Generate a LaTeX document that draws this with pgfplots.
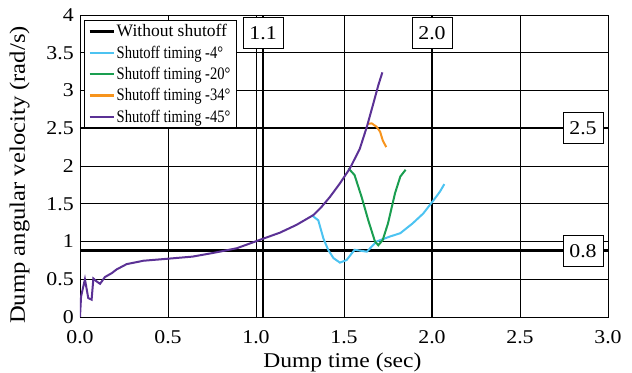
\documentclass[border=0pt]{standalone}
\usepackage{graphicx}
\usepackage{pgfplots}
\pgfplotsset{compat=1.18}
\usepackage{fontspec}
\setmainfont{Liberation Serif}
\newfontfamily\wide{Liberation Serif}[FakeStretch=1.12]
\definecolor{cblue}{HTML}{4CC3F1}
\definecolor{cgreen}{HTML}{1A9E50}
\definecolor{corange}{HTML}{F7941D}
\definecolor{cpurple}{HTML}{5B3195}
\begin{document}
\begin{tikzpicture}
\begin{axis}[
  scale only axis, width=528pt, height=302pt,
  xmin=0, xmax=3, ymin=0, ymax=4,
  xtick={0,0.5,1,1.5,2,2.5,3},
  xticklabels={0.0,0.5,1.0,1.5,2.0,2.5,3.0},
  ytick={0,0.5,1,1.5,2,2.5,3,3.5,4},
  yticklabels={0,0.5,1,1.5,2,2.5,3,3.5,4},
  grid=major, major grid style={black, line width=0.8pt},
  major tick length=0pt,
  axis line style={black, line width=0.8pt},
  tick label style={font=\wide\fontsize{19.5}{20}\selectfont, inner sep=0pt},
  xticklabel style={yshift=-13pt},
  yticklabel style={xshift=-6pt},
  xlabel={Dump time (sec)}, ylabel={Dump angular velocity (rad/s)},
  xlabel style={at={(axis description cs:0.497,-0.1656)}, anchor=base, font=\wide\fontsize{21}{21}\selectfont},
  ylabel style={at={(axis description cs:-0.1146,0.47)}, anchor=center, rotate=0, font=\wide\fontsize{22}{22}\selectfont},
  legend style={at={(0.0076,0.983)}, anchor=north west, draw=black, line width=1pt,
    font=\fontsize{17.5}{17.5}\selectfont, inner xsep=4pt, inner ysep=2pt, row sep=3.5pt},
  legend cell align=left,
  legend image code/.code={\draw[#1, line width=2.2pt] (0pt,0pt) -- (24pt,0pt);},
]
\addplot[black, line width=2.2pt] coordinates {(1.04,0) (1.04,4)};
\addlegendentry{Without shutoff}
\addplot[black, line width=2.2pt, forget plot] coordinates {(2.0,0) (2.0,4)};
\addplot[black, line width=2.2pt, forget plot] coordinates {(0,2.5) (3,2.5)};
\addplot[black, line width=2.2pt, forget plot] coordinates {(0,0.88) (3,0.88)};
\addplot[cblue, line width=2pt] coordinates {(1.316,1.35) (1.354,1.28) (1.383,1.04) (1.41,0.89) (1.44,0.78) (1.477,0.72) (1.515,0.755) (1.56,0.89) (1.63,0.865) (1.685,1.0) (1.76,1.065) (1.82,1.11) (1.89,1.24) (1.95,1.37) (2.01,1.55) (2.045,1.66) (2.07,1.76)};
\addlegendentry{\scalebox{0.83}[1]{Shutoff timing -4°}}
\addplot[cgreen, line width=2pt] coordinates {(1.525,1.97) (1.56,1.88) (1.60,1.59) (1.638,1.28) (1.676,1.0) (1.695,0.95) (1.72,1.02) (1.75,1.24) (1.79,1.64) (1.82,1.86) (1.85,1.95)};
\addlegendentry{\scalebox{0.83}[1]{Shutoff timing -20°}}
\addplot[corange, line width=2pt] coordinates {(1.633,2.556) (1.657,2.565) (1.685,2.52) (1.705,2.455) (1.72,2.34) (1.74,2.25)};
\addlegendentry{\scalebox{0.83}[1]{Shutoff timing -34°}}
\addplot[cpurple, line width=2pt] coordinates {(0,0) (0.006,0.27) (0.028,0.50) (0.047,0.25) (0.066,0.23) (0.076,0.51) (0.095,0.47) (0.114,0.44) (0.142,0.53) (0.18,0.58) (0.208,0.63) (0.265,0.70) (0.36,0.745) (0.49,0.77) (0.64,0.80) (0.76,0.85) (0.89,0.91) (1.02,1.02) (1.136,1.117) (1.23,1.22) (1.326,1.35) (1.373,1.46) (1.42,1.59) (1.477,1.77) (1.534,1.97) (1.59,2.23) (1.63,2.52) (1.667,2.83) (1.695,3.07) (1.718,3.24)};
\addlegendentry{\scalebox{0.83}[1]{Shutoff timing -45°}}
\tikzset{lbl/.style={draw=black, fill=white, line width=1pt, inner sep=0pt, minimum width=40pt, minimum height=31pt, font=\wide\fontsize{19.5}{20}\selectfont}}
\node[lbl] at (axis cs:1.04,3.76) {1.1};
\node[lbl] at (axis cs:2.0,3.76) {2.0};
\node[lbl] at (axis cs:2.858,2.5) {2.5};
\node[lbl] at (axis cs:2.858,0.87) {0.8};
\end{axis}
\pgfresetboundingbox
\path[use as bounding box] ([xshift=-80pt,yshift=-56pt]current axis.south west) rectangle ([xshift=24pt,yshift=15pt]current axis.north east);
\end{tikzpicture}
\end{document}
